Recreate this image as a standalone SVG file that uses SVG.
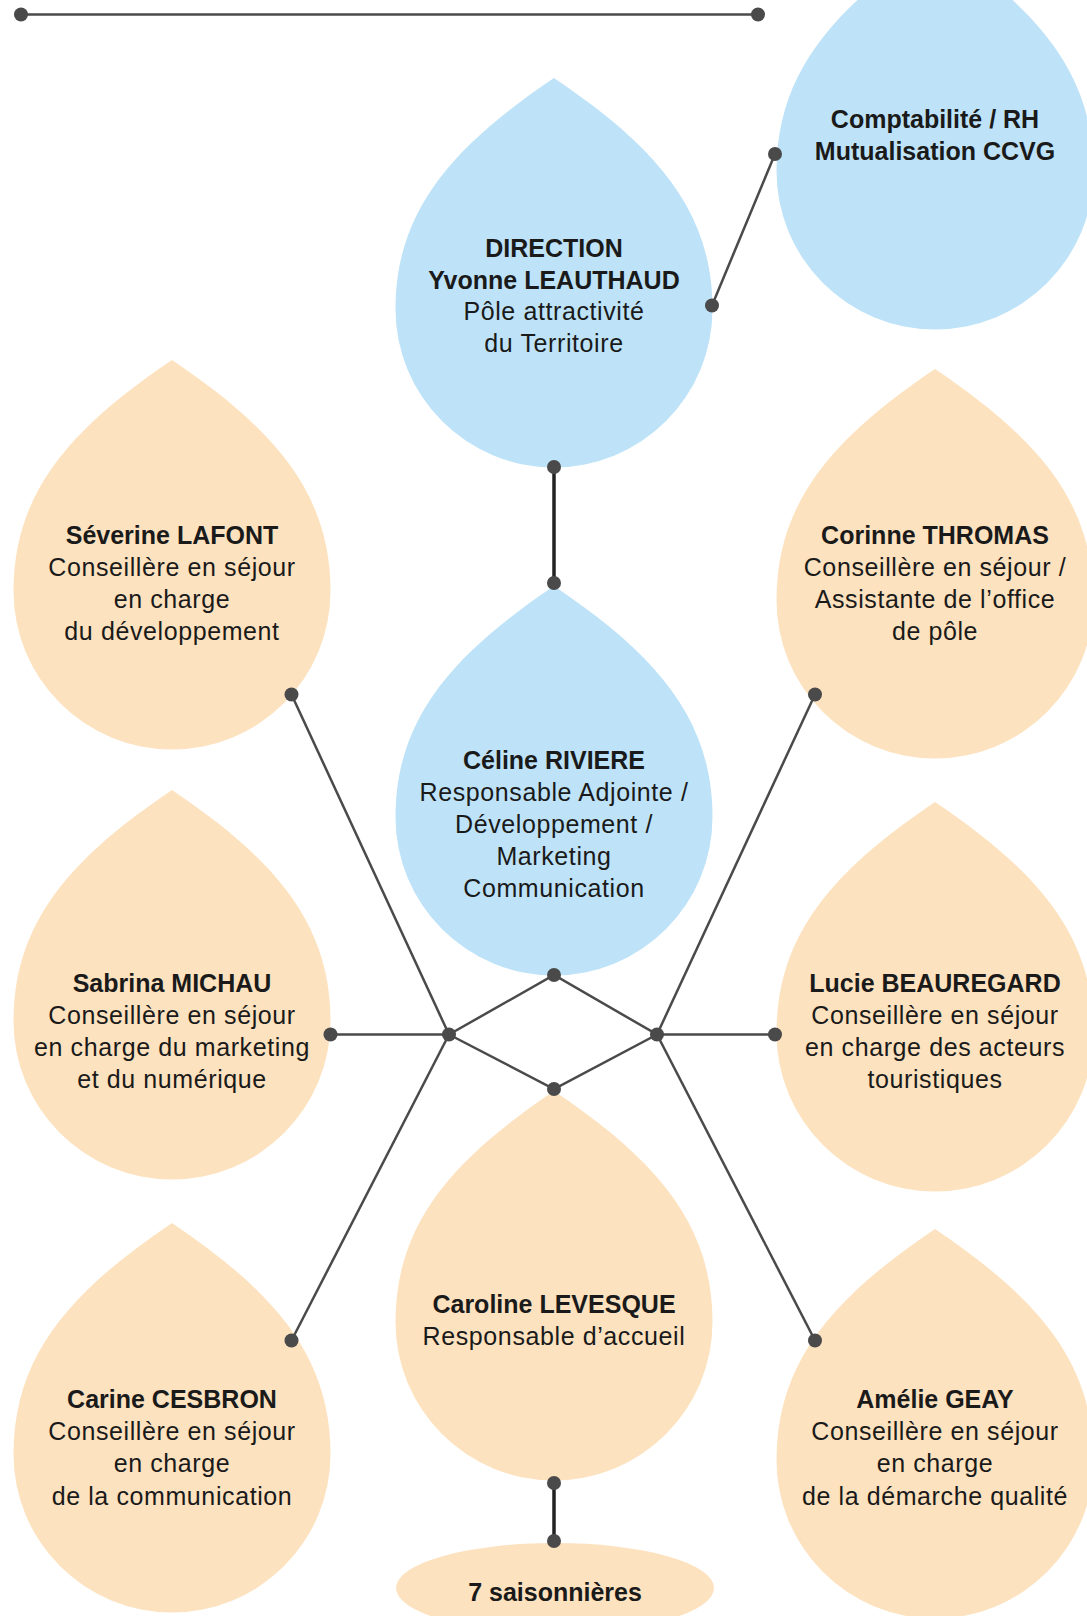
<svg xmlns="http://www.w3.org/2000/svg" width="1087" height="1616" viewBox="0 0 1087 1616">
<style>
.blue{fill:#bee3f8}
.peach{fill:#fde2bf}
text{font-family:"Liberation Sans",Arial,sans-serif;font-size:25px;fill:#1a1a1a;text-anchor:middle}
.b{font-weight:bold;letter-spacing:0}
.r{letter-spacing:0.6px}
.ln{stroke:#4a4a4a;stroke-width:2.5;fill:none}
.lnd{stroke:#222;stroke-width:3.5;fill:none}
.dot{fill:#4a4a4a}
</style>
<defs>
<path id="drop" d="M0,-231 C99.6,-163.8 158.5,-100 158.5,0 A158.5,158.5 0 0 1 -158.5,0 C-158.5,-100 -99.6,-163.8 0,-231 Z"/>
</defs>
<rect width="1087" height="1616" fill="#ffffff"/>

<g id="compta">
<use href="#drop" class="blue" x="935" y="171"/>
<text class="b" x="935" y="128">Comptabilité / RH</text>
<text class="b" x="935" y="160">Mutualisation CCVG</text>
</g>

<g id="direction">
<use href="#drop" class="blue" x="554" y="309"/>
<text class="b" x="554" y="257">DIRECTION</text>
<text class="b" x="554" y="288.5">Yvonne LEAUTHAUD</text>
<text class="r" x="554" y="320">Pôle attractivité</text>
<text class="r" x="554" y="352">du Territoire</text>
</g>

<g id="celine">
<use href="#drop" class="blue" x="554" y="817"/>
<text class="b" x="554" y="769">Céline RIVIERE</text>
<text class="r" x="554" y="801">Responsable Adjointe /</text>
<text class="r" x="554" y="833">Développement /</text>
<text class="r" x="554" y="865">Marketing</text>
<text class="r" x="554" y="897">Communication</text>
</g>

<g id="severine">
<use href="#drop" class="peach" x="172" y="591"/>
<text class="b" x="172" y="544">Séverine LAFONT</text>
<text class="r" x="172" y="576">Conseillère en séjour</text>
<text class="r" x="172" y="608">en charge</text>
<text class="r" x="172" y="640">du développement</text>
</g>

<g id="corinne">
<use href="#drop" class="peach" x="935" y="600"/>
<text class="b" x="935" y="544">Corinne THROMAS</text>
<text class="r" x="935" y="576">Conseillère en séjour /</text>
<text class="r" x="935" y="608">Assistante de l’office</text>
<text class="r" x="935" y="640">de pôle</text>
</g>

<g id="sabrina">
<use href="#drop" class="peach" x="172" y="1021"/>
<text class="b" x="172" y="992">Sabrina MICHAU</text>
<text class="r" x="172" y="1024">Conseillère en séjour</text>
<text class="r" x="172" y="1056">en charge du marketing</text>
<text class="r" x="172" y="1088">et du numérique</text>
</g>

<g id="lucie">
<use href="#drop" class="peach" x="935" y="1033"/>
<text class="b" x="935" y="992">Lucie BEAUREGARD</text>
<text class="r" x="935" y="1024">Conseillère en séjour</text>
<text class="r" x="935" y="1056">en charge des acteurs</text>
<text class="r" x="935" y="1088">touristiques</text>
</g>

<g id="caroline">
<use href="#drop" class="peach" x="554" y="1322"/>
<text class="b" x="554" y="1313">Caroline LEVESQUE</text>
<text class="r" x="554" y="1345">Responsable d’accueil</text>
</g>

<g id="carine">
<use href="#drop" class="peach" x="172" y="1454"/>
<text class="b" x="172" y="1408">Carine CESBRON</text>
<text class="r" x="172" y="1440">Conseillère en séjour</text>
<text class="r" x="172" y="1472">en charge</text>
<text class="r" x="172" y="1505">de la communication</text>
</g>

<g id="amelie">
<use href="#drop" class="peach" x="935" y="1460"/>
<text class="b" x="935" y="1408">Amélie GEAY</text>
<text class="r" x="935" y="1440">Conseillère en séjour</text>
<text class="r" x="935" y="1472">en charge</text>
<text class="r" x="935" y="1505">de la démarche qualité</text>
</g>

<g id="saisonnieres">
<ellipse class="peach" cx="555" cy="1588" rx="159" ry="45"/>
<text class="b" x="555" y="1601">7 saisonnières</text>
</g>

<g id="connectors">
<line class="ln" x1="21" y1="14.5" x2="758" y2="14.5"/>
<line class="ln" x1="712" y1="305.5" x2="775" y2="154"/>
<line class="lnd" x1="554" y1="467" x2="554" y2="583"/>
<polyline class="ln" points="449,1034.5 554,975 657,1034.5 554,1089 449,1034.5"/>
<line class="ln" x1="449" y1="1034.5" x2="291.5" y2="694.5"/>
<line class="ln" x1="449" y1="1034.5" x2="330.5" y2="1034.5"/>
<line class="ln" x1="449" y1="1034.5" x2="291.5" y2="1340.5"/>
<line class="ln" x1="657" y1="1034.5" x2="815" y2="694.5"/>
<line class="ln" x1="657" y1="1034.5" x2="775" y2="1034.5"/>
<line class="ln" x1="657" y1="1034.5" x2="815" y2="1340.5"/>
<line class="lnd" x1="554" y1="1483" x2="554" y2="1541"/>
<g class="dot">
<circle cx="21" cy="14.5" r="7"/>
<circle cx="758" cy="14.5" r="7"/>
<circle cx="712" cy="305.5" r="7"/>
<circle cx="775" cy="154" r="7"/>
<circle cx="554" cy="467" r="7"/>
<circle cx="554" cy="583" r="7"/>
<circle cx="554" cy="975" r="7"/>
<circle cx="449" cy="1034.5" r="7"/>
<circle cx="657" cy="1034.5" r="7"/>
<circle cx="554" cy="1089" r="7"/>
<circle cx="291.5" cy="694.5" r="7"/>
<circle cx="330.5" cy="1034.5" r="7"/>
<circle cx="291.5" cy="1340.5" r="7"/>
<circle cx="815" cy="694.5" r="7"/>
<circle cx="775" cy="1034.5" r="7"/>
<circle cx="815" cy="1340.5" r="7"/>
<circle cx="554" cy="1483" r="7"/>
<circle cx="554" cy="1541" r="7"/>
</g>
</g>
</svg>
